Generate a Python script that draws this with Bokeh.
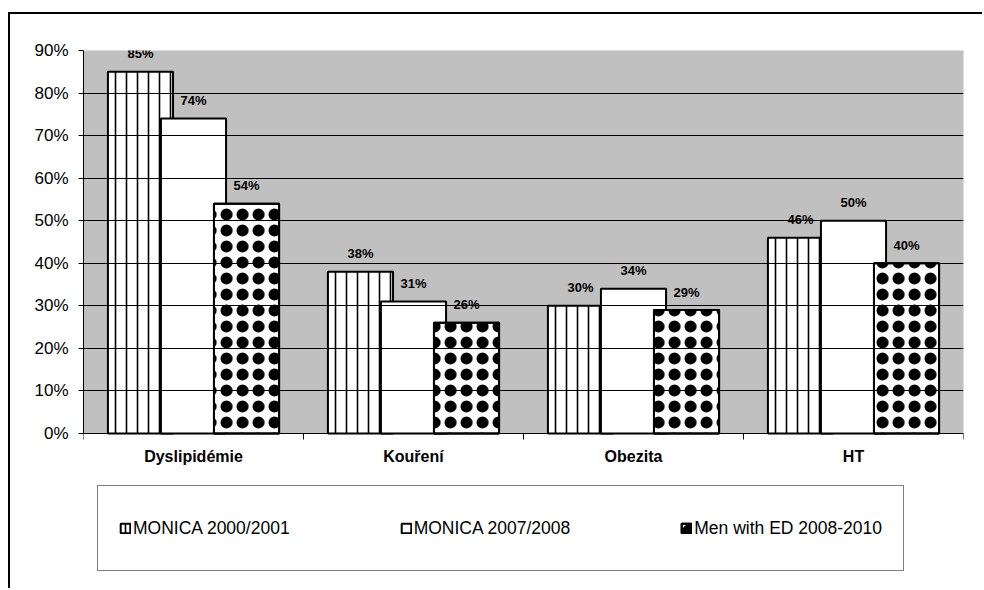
import numpy as np
from bokeh.plotting import figure
from bokeh.models import (Range1d, FixedTicker, PrintfTickFormatter, ColumnDataSource,
                          LabelSet, Legend, LegendItem, BoxAnnotation)
from bokeh.core.properties import value
from bokeh.embed import file_html
from bokeh.resources import INLINE

# ---- data -------------------------------------------------------------
categories = ["Dyslipidémie", "Kouření", "Obezita", "HT"]
series_names = ["MONICA 2000/2001", "MONICA 2007/2008", "Men with ED 2008-2010"]
monica_2000_2001 = [85, 38, 30, 46]
monica_2007_2008 = [74, 31, 34, 50]
men_with_ed_2008_2010 = [54, 26, 29, 40]
y_ticks = [0, 10, 20, 30, 40, 50, 60, 70, 80, 90]

FONT = "Liberation Sans"

# The frame reaches down to the bottom of the canvas so that the legend box
# below the bars can live inside it; the value axis itself runs from 0 to 90.
Y_MAX = 90
Y_MIN = -33.13

# ---- figure -----------------------------------------------------------
# the chart sits inside a thin black frame drawn by the host element's CSS
p = figure(width=974, height=576, output_backend="svg", toolbar_location=None,
           x_range=Range1d(0, len(categories)), y_range=Range1d(Y_MIN, Y_MAX),
           min_border_left=73, min_border_right=21, min_border_top=36,
           min_border_bottom=16,
           background_fill_color="white", border_fill_color="white")
p.styles = {"margin-left": "8px", "margin-top": "12px",
            "border-left": "2px solid black", "border-top": "2px solid black"}
p.title.visible = False
p.outline_line_color = None

# grey plot area
p.add_layout(BoxAnnotation(left=0, right=len(categories), bottom=0, top=Y_MAX,
                           fill_color="#c0c0c0", fill_alpha=1,
                           line_color="#808080", line_width=1, level="underlay"))

# x axis sits on the 0 % line, tick marks on the category boundaries
xa = p.xaxis[0]
centers = np.arange(len(categories)) + 0.5
xa.fixed_location = 0
xa.ticker = FixedTicker(ticks=[], minor_ticks=list(range(len(categories) + 1)))
xa.major_tick_in = 0
xa.major_tick_out = 0
xa.minor_tick_in = 0
xa.minor_tick_out = 6
xa.minor_tick_line_color = "black"
xa.axis_line_color = "black"
xa.major_label_standoff = 0

# y axis: percentages
ya = p.yaxis[0]
ya.bounds = (0, Y_MAX)
ya.ticker = FixedTicker(ticks=y_ticks)
ya.formatter = PrintfTickFormatter(format="%d%%")
ya.major_tick_in = 0
ya.major_tick_out = 5
ya.minor_tick_in = 0
ya.minor_tick_out = 0
ya.axis_line_color = "black"
ya.major_tick_line_color = "black"
ya.major_label_text_font = FONT
ya.major_label_text_font_size = "17px"
ya.major_label_text_color = "black"
ya.major_label_standoff = 10

p.xgrid.visible = False
p.ygrid.ticker = FixedTicker(ticks=y_ticks)
p.ygrid.grid_line_color = "black"
p.ygrid.grid_line_width = 1
p.ygrid.level = "glyph"

# category names under the axis
cat_src = ColumnDataSource(dict(x=centers, y=[0] * len(categories), name=categories))
p.add_layout(LabelSet(x="x", y="y", text="name", source=cat_src,
                      text_align="center", text_baseline="middle", y_offset=-23,
                      text_font=value(FONT), text_font_size="16px",
                      text_font_style="bold", text_color="black"))

# ---- bars -------------------------------------------------------------
offsets = [-0.241, 0.0, 0.241]
bar_width = 0.296
series_values = [monica_2000_2001, monica_2007_2008, men_with_ed_2008_2010]

# each series: list of layers drawn on top of one another
layers = [
    [dict(fill_color="white", hatch_pattern="vertical_line", hatch_color="black",
          hatch_scale=11, hatch_weight=1.6)],
    [dict(fill_color="white")],
    # dark balls: a filled dot plus a thick ring around it
    [dict(fill_color="white", hatch_pattern="dot", hatch_color="black",
          hatch_scale=16),
     dict(fill_alpha=0, hatch_pattern="ring", hatch_color="black",
          hatch_scale=16, hatch_weight=4)],
]

legend_items = []
for name, vals, off, lay in zip(series_names, series_values, offsets, layers):
    src = ColumnDataSource(dict(x=centers + off, top=vals,
                                label=[f"{v}%" for v in vals]))
    rs = [p.vbar(x="x", top="top", width=bar_width, source=src,
                 line_color="black", line_width=2, **st) for st in lay]
    legend_items.append(LegendItem(label=name, renderers=rs))
    p.add_layout(LabelSet(x="x", y="top", text="label", source=src,
                          text_align="center", text_baseline="middle",
                          y_offset=18, text_font=value(FONT),
                          text_font_size="13px", text_font_style="bold",
                          text_color="black"))

# ---- legend -----------------------------------------------------------
legend = Legend(items=legend_items,
                orientation="horizontal", location=(14, 3),
                padding=21, spacing=110, margin=0, label_height=42,
                glyph_width=12, glyph_height=12, label_standoff=2,
                label_text_font=FONT, label_text_font_size="17.5px",
                label_text_color="black",
                border_line_color="black", border_line_width=1,
                background_fill_color="white", background_fill_alpha=1)
p.add_layout(legend)

open("out.html", "w").write(file_html(p, INLINE))
